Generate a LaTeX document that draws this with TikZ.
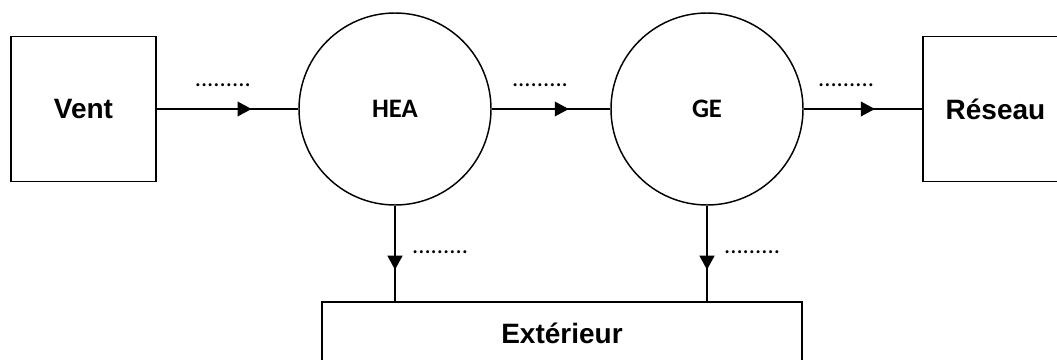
\documentclass[tikz,border=0pt]{standalone}
\usepackage{fontspec}
\setmainfont{Liberation Sans}
\newfontfamily\calib{Carlito}
\usetikzlibrary{arrows.meta,decorations.markings}
\begin{document}
\begin{tikzpicture}[x=0.75pt,y=-0.75pt,line width=1.1pt,
    box/.style={draw,rectangle,inner sep=0pt,font=\bfseries\fontsize{21}{25}\selectfont},
    bloc/.style={draw,circle,minimum size=144pt,inner sep=0pt,font=\calib\bfseries\fontsize{20}{24}\selectfont},
    mid/.style={postaction={decorate,decoration={markings,mark=at position #1 with {\arrow{Triangle[length=10.5pt,width=11pt]}}}}},
    pts/.style={font=\calib\fontsize{18.5}{20}\selectfont,inner sep=0pt}]
\useasboundingbox (0,0) rectangle (1057,360);
\clip (0,0) rectangle (1057,360);
\node[box,minimum size=108.75pt] (vent) at (83.5,109) {Vent};
\node[bloc] (hea) at (395,109) {HEA};
\node[bloc] (ge) at (707,109) {GE};
\node[box,minimum size=108.75pt] (reseau) at (995.5,109) {Réseau};
\node[box,minimum width=360pt,minimum height=46.5pt] (ext) at (562,333) {Extérieur};

\draw[mid=.67] (vent) -- node[pts,pos=.67,anchor=base east,yshift=17pt]{.........} (hea);
\draw[mid=.65] (hea) -- node[pts,pos=.65,anchor=base east,yshift=17pt]{.........} (ge);
\draw[mid=.6] (ge) -- node[pts,pos=.6,anchor=base east,yshift=17pt]{.........} (reseau);
\foreach \n in {hea,ge}
{
    \draw[mid=.67,line width=1.6pt] (\n.south) -- node[pts,pos=.67,anchor=base west,xshift=12pt,yshift=12pt]{.........} (\n.south |- ext.north);
}
\end{tikzpicture}
\end{document}
